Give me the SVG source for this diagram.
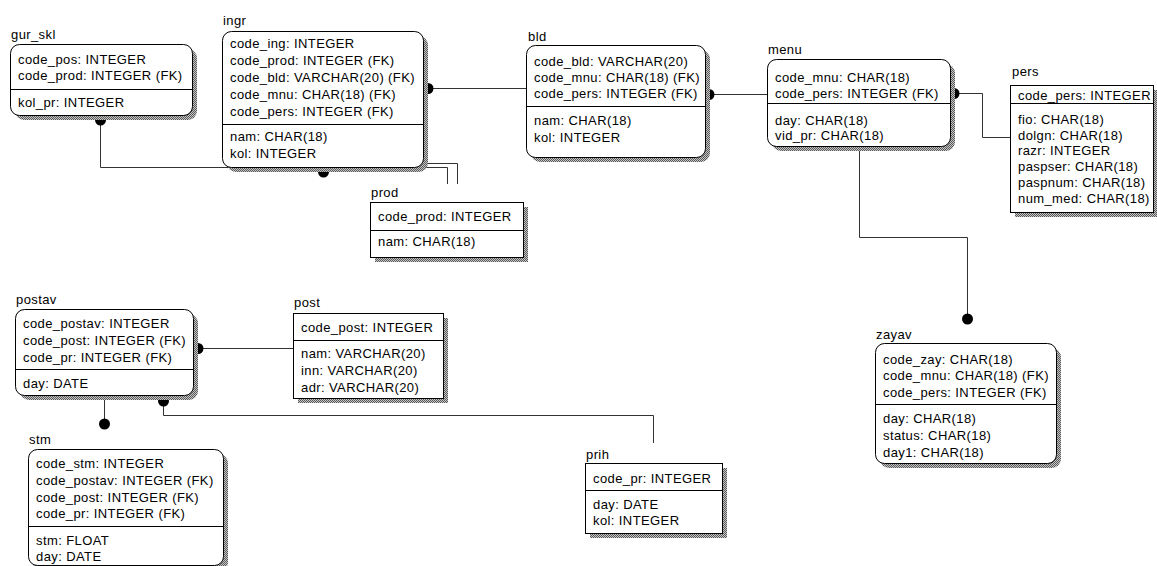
<svg xmlns="http://www.w3.org/2000/svg" width="1157" height="566" viewBox="0 0 1157 566">
<style>
text{font-family:"Liberation Sans",Arial,sans-serif;font-size:13px;letter-spacing:0.4px;fill:#000}
.box{fill:#fff;stroke:#000;stroke-width:1}
.sh{fill:url(#shp);stroke:none}
.dv{stroke:#000;stroke-width:1}
.cn{fill:none;stroke:#333;stroke-width:1}
.dot{fill:#000}
</style>
<defs>
<pattern id="shp" width="2" height="2" patternUnits="userSpaceOnUse">
<rect width="2" height="2" fill="#c4c4c4"/>
<rect width="1" height="1" fill="#5a5a5a"/>
<rect x="1" y="1" width="1" height="1" fill="#5a5a5a"/>
</pattern>
</defs>
<rect width="1157" height="566" fill="#fff"/>

<g id="connectors">
<path class="cn" d="M100.5,120 V167.5 H447.5 V184"/>
<circle class="dot" cx="100.5" cy="120" r="5.5"/>
<path class="cn" d="M323.5,172 V163.5 H457.5 V184"/>
<circle class="dot" cx="323.5" cy="172" r="5.5"/>
<path class="cn" d="M428,88.5 H526"/>
<circle class="dot" cx="428" cy="88.5" r="5.5"/>
<path class="cn" d="M709,94.5 H767"/>
<circle class="dot" cx="709" cy="94.5" r="5.5"/>
<path class="cn" d="M954,93.5 H982.5 V137.5 H1010"/>
<circle class="dot" cx="954" cy="93.5" r="5.5"/>
<path class="cn" d="M859.5,146 V237.5 H967.5 V319"/>
<circle class="dot" cx="967.5" cy="319" r="5.5"/>
<path class="cn" d="M198,348.5 H293"/>
<circle class="dot" cx="198" cy="348.5" r="5.5"/>
<path class="cn" d="M163.5,401 V415.5 H653.5 V443"/>
<circle class="dot" cx="163.5" cy="401" r="5.5"/>
<path class="cn" d="M104.5,395 V424"/>
<circle class="dot" cx="104.5" cy="424" r="5.5"/>
</g>

<g id="gur_skl">
<rect class="sh" x="15" y="49" width="182" height="71" rx="9"/>
<rect class="box" x="10.5" y="44.5" width="182" height="71" rx="9"/>
<line class="dv" x1="10.5" y1="89.5" x2="192.5" y2="89.5"/>
<text x="11" y="39">gur_skl</text>
<text x="18" y="64">code_pos: INTEGER</text>
<text x="18" y="80">code_prod: INTEGER (FK)</text>
<text x="18" y="107">kol_pr: INTEGER</text>
</g>

<g id="ingr">
<rect class="sh" x="227" y="36" width="201" height="136" rx="9"/>
<rect class="box" x="222.5" y="31.5" width="201" height="136" rx="9"/>
<line class="dv" x1="222.5" y1="124.5" x2="423.5" y2="124.5"/>
<text x="223" y="25">ingr</text>
<text x="230" y="48">code_ing: INTEGER</text>
<text x="230" y="65">code_prod: INTEGER (FK)</text>
<text x="230" y="82">code_bld: VARCHAR(20) (FK)</text>
<text x="230" y="99">code_mnu: CHAR(18) (FK)</text>
<text x="230" y="116">code_pers: INTEGER (FK)</text>
<text x="230" y="141">nam: CHAR(18)</text>
<text x="230" y="158">kol: INTEGER</text>
</g>

<g id="prod">
<rect class="sh" x="375" y="207" width="153" height="55"/>
<rect class="box" x="370.5" y="202.5" width="153" height="55"/>
<line class="dv" x1="370.5" y1="230.5" x2="523.5" y2="230.5"/>
<text x="371" y="197">prod</text>
<text x="378" y="221">code_prod: INTEGER</text>
<text x="378" y="246">nam: CHAR(18)</text>
</g>

<g id="bld">
<rect class="sh" x="531" y="50" width="179" height="112" rx="9"/>
<rect class="box" x="526.5" y="45.5" width="179" height="112" rx="9"/>
<line class="dv" x1="526.5" y1="106.5" x2="705.5" y2="106.5"/>
<text x="528" y="41">bld</text>
<text x="534" y="66">code_bld: VARCHAR(20)</text>
<text x="534" y="82">code_mnu: CHAR(18) (FK)</text>
<text x="534" y="98">code_pers: INTEGER (FK)</text>
<text x="534" y="125">nam: CHAR(18)</text>
<text x="534" y="142">kol: INTEGER</text>
</g>

<g id="menu">
<rect class="sh" x="772" y="64" width="183" height="87" rx="9"/>
<rect class="box" x="767.5" y="59.5" width="183" height="87" rx="9"/>
<line class="dv" x1="767.5" y1="103.5" x2="950.5" y2="103.5"/>
<text x="768" y="54">menu</text>
<text x="775" y="82">code_mnu: CHAR(18)</text>
<text x="775" y="98">code_pers: INTEGER (FK)</text>
<text x="775" y="125">day: CHAR(18)</text>
<text x="775" y="140">vid_pr: CHAR(18)</text>
</g>

<g id="pers">
<rect class="sh" x="1015" y="90" width="143" height="127"/>
<rect class="box" x="1010.5" y="85.5" width="143" height="127"/>
<line class="dv" x1="1010.5" y1="103.5" x2="1153.5" y2="103.5"/>
<text x="1012" y="76">pers</text>
<text x="1018" y="100">code_pers: INTEGER</text>
<text x="1018" y="124">fio: CHAR(18)</text>
<text x="1018" y="140">dolgn: CHAR(18)</text>
<text x="1018" y="155">razr: INTEGER</text>
<text x="1018" y="171">paspser: CHAR(18)</text>
<text x="1018" y="187">paspnum: CHAR(18)</text>
<text x="1018" y="203">num_med: CHAR(18)</text>
</g>

<g id="zayav">
<rect class="sh" x="880" y="348" width="181" height="120" rx="9"/>
<rect class="box" x="875.5" y="343.5" width="181" height="120" rx="9"/>
<line class="dv" x1="875.5" y1="404.5" x2="1056.5" y2="404.5"/>
<text x="876" y="339">zayav</text>
<text x="883" y="364">code_zay: CHAR(18)</text>
<text x="883" y="380">code_mnu: CHAR(18) (FK)</text>
<text x="883" y="397">code_pers: INTEGER (FK)</text>
<text x="883" y="423">day: CHAR(18)</text>
<text x="883" y="440">status: CHAR(18)</text>
<text x="883" y="457">day1: CHAR(18)</text>
</g>

<g id="postav">
<rect class="sh" x="20" y="314" width="178" height="86" rx="9"/>
<rect class="box" x="15.5" y="309.5" width="178" height="86" rx="9"/>
<line class="dv" x1="15.5" y1="369.5" x2="193.5" y2="369.5"/>
<text x="16" y="304">postav</text>
<text x="23" y="328">code_postav: INTEGER</text>
<text x="23" y="345">code_post: INTEGER (FK)</text>
<text x="23" y="362">code_pr: INTEGER (FK)</text>
<text x="23" y="388">day: DATE</text>
</g>

<g id="post">
<rect class="sh" x="298" y="318" width="150" height="85"/>
<rect class="box" x="293.5" y="313.5" width="150" height="85"/>
<line class="dv" x1="293.5" y1="340.5" x2="443.5" y2="340.5"/>
<text x="294" y="307">post</text>
<text x="301" y="332">code_post: INTEGER</text>
<text x="301" y="358">nam: VARCHAR(20)</text>
<text x="301" y="375">inn: VARCHAR(20)</text>
<text x="301" y="392">adr: VARCHAR(20)</text>
</g>

<g id="stm">
<rect class="sh" x="33" y="454" width="195" height="117" rx="9"/>
<rect class="box" x="28.5" y="449.5" width="195" height="116" rx="9"/>
<line class="dv" x1="28.5" y1="526.5" x2="223.5" y2="526.5"/>
<text x="29" y="444">stm</text>
<text x="36" y="468">code_stm: INTEGER</text>
<text x="36" y="485">code_postav: INTEGER (FK)</text>
<text x="36" y="502">code_post: INTEGER (FK)</text>
<text x="36" y="518">code_pr: INTEGER (FK)</text>
<text x="36" y="545">stm: FLOAT</text>
<text x="36" y="561">day: DATE</text>
</g>

<g id="prih">
<rect class="sh" x="590" y="468" width="137" height="70"/>
<rect class="box" x="585.5" y="463.5" width="137" height="70"/>
<line class="dv" x1="585.5" y1="490.5" x2="722.5" y2="490.5"/>
<text x="586" y="459">prih</text>
<text x="593" y="483">code_pr: INTEGER</text>
<text x="593" y="509">day: DATE</text>
<text x="593" y="525">kol: INTEGER</text>
</g>
</svg>
